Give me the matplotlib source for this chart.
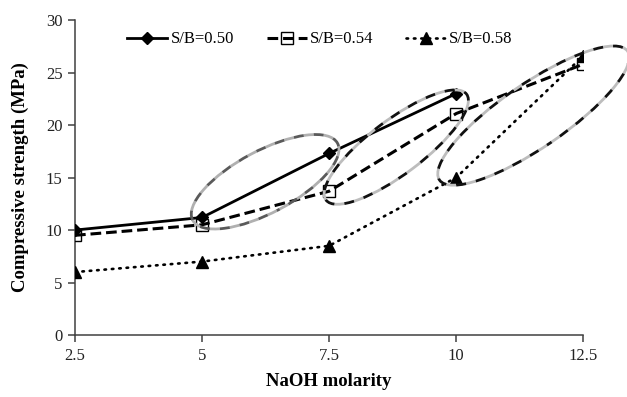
import matplotlib
matplotlib.use("Agg")
import matplotlib.pyplot as plt
from matplotlib.patches import Ellipse
from matplotlib import transforms

# NaOH molarity (M)
molarity = [2.5, 5, 7.5, 10, 12.5]

# Compressive strength (MPa) for each sand/binder ratio
sb050 = [10.0, 11.2, 17.3, 23.0]
sb054 = [9.5, 10.5, 13.7, 21.1, 25.8]
sb058 = [6.0, 7.0, 8.5, 15.0, 26.6]

series_labels = ["S/B=0.50", "S/B=0.54", "S/B=0.58"]
x_ticks = [2.5, 5, 7.5, 10, 12.5]
y_ticks = [0, 5, 10, 15, 20, 25, 30]

# Highlight rings: centre (molarity, MPa), half-axes in px, tilt in degrees
rings = [
    ((6.24, 14.6), 82, 31, 28, "#5a5a5a", "#b0b0b0"),
    ((8.82, 17.9), 88, 27, 37, "#111111", "#bdbdbd"),
    ((11.52, 20.9), 114, 32, 34.4, "#111111", "#bdbdbd"),
]

plt.rcParams["font.family"] = ["Liberation Serif", "DejaVu Serif"]

fig = plt.figure(figsize=(6.27, 3.97), dpi=100)
ax = fig.add_axes([0.1196, 0.156, 0.8108, 0.7935])

ax.plot(molarity[:len(sb050)], sb050, color="black", lw=2.0, marker="D",
        markersize=6.5, markerfacecolor="black", label=series_labels[0], zorder=4)
ax.plot(molarity, sb054, color="black", lw=2.2, linestyle=(0, (3.5, 1.6)),
        marker="s", markersize=8, markerfacecolor="none", markeredgewidth=1.0,
        label=series_labels[1], zorder=4)
ax.plot(molarity, sb058, color="black", lw=1.9, linestyle=(0, (0.6, 2.2)),
        dash_capstyle="round", marker="^", markersize=8.5,
        markerfacecolor="black", label=series_labels[2], zorder=4)

# Two-tone dashed rings, sized in pixels so they keep their shape
for (cx, cy), a, b, ang, dark, light in rings:
    tr = fig.dpi_scale_trans + transforms.ScaledTranslation(cx, cy, ax.transData)
    for col, off in ((light, 0.0), (dark, 3.6)):
        e = Ellipse((0, 0), 2 * a / 100, 2 * b / 100, angle=ang, transform=tr,
                    fill=False, edgecolor=col, lw=2.0,
                    linestyle=(off, (3.6, 3.6)), clip_on=False, zorder=5)
        ax.add_patch(e)

ax.set_xlim(2.5, 12.5)
ax.set_ylim(0, 30)
ax.set_xticks(x_ticks)
ax.set_xticklabels(["2.5", "5", "7.5", "10", "12.5"])
ax.set_yticks(y_ticks)

for side in ("top", "right"):
    ax.spines[side].set_visible(False)
for side in ("left", "bottom"):
    ax.spines[side].set_color("#404040")
    ax.spines[side].set_linewidth(1.1)
ax.tick_params(direction="out", length=5, width=1.1, color="#404040",
               labelsize=12, labelcolor="#222222", pad=4)

ax.set_xlabel("NaOH molarity", fontsize=13.5, fontweight="bold", labelpad=7)
ax.set_ylabel("Compressive strength (MPa)", fontsize=13.5, fontweight="bold",
              labelpad=12)

leg = ax.legend(loc="upper left", bbox_to_anchor=(0.09, 0.985), ncol=3,
                frameon=False, fontsize=12, handlelength=2.4,
                handletextpad=0.2, columnspacing=1.95, borderaxespad=0)

fig.savefig("out.png", dpi=100)
